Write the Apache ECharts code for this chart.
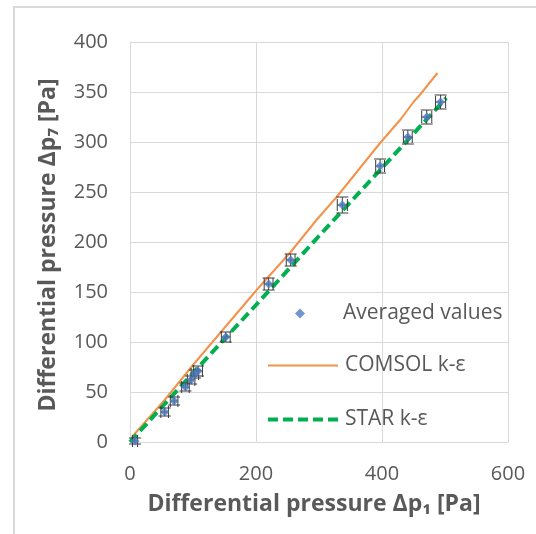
<!DOCTYPE html>
<html>
<head>
<meta charset="utf-8">
<script src="https://cdn.jsdelivr.net/npm/echarts@6/dist/echarts.min.js"></script>
<style>
html,body{margin:0;padding:0;background:#fff;}
#main{width:536px;height:534px;}
</style>
</head>
<body>
<div id="main"></div>
<script>
// Averaged values (measured) with error bars
const avgX = [8, 55, 70, 88, 97, 103, 108, 152, 220, 255, 337, 397, 441, 471, 493];
const avgY = [1, 30, 41, 55, 62, 68, 71, 105, 158, 182, 237, 276, 305, 325, 340];
const errX = [4, 6, 6, 6, 6, 6, 7, 7, 7, 7, 8, 7, 7, 8, 8];
const errY = [3, 4, 4, 4, 4, 4, 5, 5, 6, 6, 8, 7, 7, 7, 7];
// COMSOL k-ε simulation
const comsolX = [3, 55, 100, 143, 201, 255, 296, 328, 397, 430, 450, 460, 488];
const comsolY = [5, 42, 77, 109, 152, 190, 222, 245, 299, 323, 340, 347, 369];
// STAR k-ε simulation
const starX = [0, 100, 200, 300, 400, 502];
const starY = [0, 69, 137, 206, 274, 344];
// Axis ticks
const xTicks = [0, 200, 400, 600];
const yTicks = [0, 50, 100, 150, 200, 250, 300, 350, 400];

const names = ['Averaged values', 'COMSOL k-ε', 'STAR k-ε'];
const FONT = '"Open Sans", "DejaVu Sans", sans-serif';
const GRAY = '#595959';

const chart = echarts.init(document.getElementById('main'), null, {renderer: 'canvas'});

const avgData = avgX.map((x, i) => [x, avgY[i]]);
const errData = avgX.map((x, i) => [x, avgY[i], errX[i], errY[i]]);

function renderErr(params, api) {
  const x = api.value(0), y = api.value(1), ex = api.value(2), ey = api.value(3);
  const c = api.coord([x, y]);
  const l = api.coord([x - ex, y]), r = api.coord([x + ex, y]);
  const t = api.coord([x, y + ey]), b = api.coord([x, y - ey]);
  const cap = 6;
  const st = {stroke: '#3a3a3a', lineWidth: 1};
  return {
    type: 'group',
    children: [
      {type: 'line', shape: {x1: l[0], y1: c[1], x2: r[0], y2: c[1]}, style: st},
      {type: 'line', shape: {x1: l[0], y1: c[1] - cap, x2: l[0], y2: c[1] + cap}, style: st},
      {type: 'line', shape: {x1: r[0], y1: c[1] - cap, x2: r[0], y2: c[1] + cap}, style: st},
      {type: 'line', shape: {x1: c[0], y1: t[1], x2: c[0], y2: b[1]}, style: st},
      {type: 'line', shape: {x1: c[0] - cap, y1: t[1], x2: c[0] + cap, y2: t[1]}, style: st},
      {type: 'line', shape: {x1: c[0] - cap, y1: b[1], x2: c[0] + cap, y2: b[1]}, style: st}
    ]
  };
}

const option = {
  backgroundColor: '#fff',
  animation: false,
  grid: {left: 130, right: 28, top: 42, bottom: 92, containLabel: false},
  xAxis: {
    type: 'value', min: xTicks[0], max: xTicks[xTicks.length - 1], interval: 200,
    axisLine: {show: true, lineStyle: {color: '#d9d9d9', width: 1}},
    axisTick: {show: false},
    splitLine: {show: true, lineStyle: {color: '#d9d9d9', width: 1}},
    axisLabel: {color: GRAY, fontFamily: FONT, fontSize: 20, margin: 22}
  },
  yAxis: {
    type: 'value', min: yTicks[0], max: yTicks[yTicks.length - 1], interval: 50,
    axisLine: {show: true, lineStyle: {color: '#d9d9d9', width: 1}},
    axisTick: {show: false},
    splitLine: {show: true, lineStyle: {color: '#d9d9d9', width: 1}},
    axisLabel: {color: GRAY, fontFamily: FONT, fontSize: 20, margin: 22}
  },
  legend: [
    {
      data: [{name: names[0], icon: 'diamond'}], left: 290, top: 298, orient: 'vertical',
      itemWidth: 10, itemHeight: 10, itemGap: 0,
      textStyle: {color: GRAY, fontFamily: FONT, fontSize: 21, padding: [0, 0, 0, 33]}
    },
    {
      data: [
        {name: names[1], lineStyle: {width: 2}},
        {name: names[2], lineStyle: {width: 4, type: [10, 5]}}
      ],
      left: 261, top: 350, orient: 'vertical',
      itemWidth: 70, itemHeight: 14, itemGap: 33,
      itemStyle: {opacity: 0},
      textStyle: {color: GRAY, fontFamily: FONT, fontSize: 21, padding: [0, 0, 0, 2]}
    }
  ],
  graphic: [
    {type: 'rect', shape: {x: 14, y: 7, width: 700, height: 700},
     style: {fill: 'none', stroke: '#d9d9d9', lineWidth: 2}, z: -10, silent: true},
    {type: 'text', x: 314, y: 504,
     style: {text: 'Differential pressure Δp₁ [Pa]', fill: GRAY, font: 'bold 23px ' + FONT,
             align: 'center', verticalAlign: 'middle'}},
    {type: 'text', x: 48, y: 245, rotation: Math.PI / 2,
     style: {text: 'Differential pressure Δp₇ [Pa]', fill: GRAY, font: 'bold 23px ' + FONT,
             align: 'center', verticalAlign: 'middle'}}
  ],
  series: [
    {
      name: names[1], type: 'line', data: comsolX.map((x, i) => [x, comsolY[i]]),
      symbol: 'none', lineStyle: {color: '#F4914A', width: 2}, itemStyle: {color: '#F4914A'}, z: 2
    },
    {
      name: names[2], type: 'line', data: starX.map((x, i) => [x, starY[i]]),
      symbol: 'none', lineStyle: {color: '#00B050', width: 4, type: [10, 5]}, itemStyle: {color: '#00B050'}, z: 3
    },
    {
      name: 'err', type: 'custom', renderItem: renderErr, data: errData, z: 4, silent: true
    },
    {
      name: names[0], type: 'scatter', data: avgData, symbol: 'diamond', symbolSize: 9,
      itemStyle: {color: '#4F7BC4'}, z: 5
    }
  ]
};
chart.setOption(option);
</script>
</body>
</html>
